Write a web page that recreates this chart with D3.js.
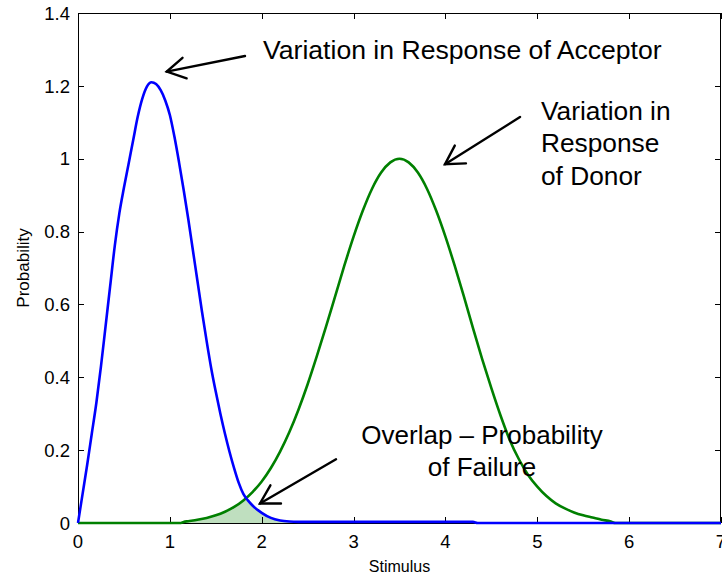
<!DOCTYPE html>
<html><head><meta charset="utf-8">
<script src="https://cdn.jsdelivr.net/npm/d3@7"></script>
<style>
html,body{margin:0;padding:0;background:#fff;}
svg{display:block;}
text{font-family:Arial,"Liberation Sans",sans-serif;fill:#000;}
</style></head>
<body><svg id="chart" width="722" height="576"></svg>
<script>
// ---- data ----
const blueX = [0,0.05,0.1,0.15,0.2,0.25,0.3,0.35,0.4,0.45,0.5,0.55,0.6,0.65,0.7,0.75,0.8,0.85,0.9,0.95,1.0,1.05,1.1,1.15,1.2,1.25,1.3,1.35,1.4,1.45,1.5,1.55,1.6,1.65,1.7,1.75,1.8,1.85,1.9,2.0,2.1,2.2,2.3,2.4,4.3,4.35,7];
const blueY = [0,0.08,0.16,0.245,0.33,0.43,0.54,0.65,0.76,0.85,0.92,0.985,1.05,1.115,1.165,1.198,1.21,1.205,1.188,1.16,1.12,1.06,0.99,0.915,0.835,0.75,0.665,0.58,0.5,0.425,0.36,0.3,0.245,0.195,0.15,0.11,0.08,0.062,0.048,0.028,0.014,0.007,0.004,0.003,0.003,0,0];
const greenX = [0,1.12,1.15,1.2,1.3,1.4,1.5,1.6,1.7,1.8,1.9,2.0,2.1,2.2,2.3,2.4,2.5,2.6,2.7,2.8,2.9,3.0,3.1,3.2,3.3,3.4,3.5,3.6,3.7,3.8,3.9,4.0,4.1,4.2,4.3,4.4,4.5,4.6,4.7,4.8,4.9,5.0,5.1,5.2,5.3,5.4,5.5,5.6,5.7,5.8,5.85,7];
const greenY = [0,0,0.003,0.005,0.009,0.014,0.021,0.031,0.044,0.062,0.085,0.114,0.151,0.196,0.249,0.311,0.381,0.458,0.539,0.623,0.707,0.786,0.857,0.917,0.962,0.99,1.0,0.99,0.962,0.917,0.857,0.786,0.707,0.623,0.535,0.45,0.37,0.295,0.228,0.175,0.132,0.1,0.074,0.054,0.04,0.029,0.021,0.015,0.009,0.004,0,0];
const xTicks = [0,1,2,3,4,5,6,7];
const yTicks = [0,0.2,0.4,0.6,0.8,1,1.2,1.4];
const yTickLabels = ["0","0.2","0.4","0.6","0.8","1","1.2","1.4"];
const overlapRange = [1.12, 2.4];
const xLabel = "Stimulus";
const yLabel = "Probability";
// annotations (data coordinates)
const arrows = [
  {from:[1.818,1.282], to:[0.966,1.239]},
  {from:[4.812,1.1145], to:[3.995,0.985]},
  {from:[2.809,0.175], to:[1.981,0.0535]}
];
const notes = [
  {lines:["Variation in Response of Acceptor"], x:2.014, y:1.2737, anchor:"start", size:26.6},
  {lines:["Variation in","Response","of Donor"], x:5.04, y:1.1063, anchor:"start", size:26.3},
  {lines:["Overlap \u2013 Probability","of Failure"], x:4.398, y:0.2169, anchor:"middle", size:26}
];

// ---- layout ----
const L=78, R=721, T=13, B=523;
const svg = d3.select("#chart");
const x = d3.scaleLinear().domain([0,7]).range([L,R]);
const y = d3.scaleLinear().domain([0,1.4]).range([B,T]);

// overlap fill
function interp(xs, ys, v){
  const i = d3.bisectRight(xs, v);
  if (i<=0) return ys[0];
  if (i>=xs.length) return ys[ys.length-1];
  const x0=xs[i-1], x1=xs[i];
  const t=(v-x0)/(x1-x0);
  return ys[i-1]+(ys[i]-ys[i-1])*t;
}
const fillPts = d3.range(overlapRange[0], overlapRange[1]+1e-9, 0.01).map(v=>[v, Math.min(interp(blueX,blueY,v), interp(greenX,greenY,v))]);
svg.append("path")
  .attr("d", d3.area().x(d=>x(d[0])).y0(y(0)).y1(d=>y(d[1])).curve(d3.curveMonotoneX)(fillPts))
  .attr("fill","rgb(191,223,191)");

// axes box + ticks
const tl = 6;
const axG = svg.append("g").attr("stroke","#000").attr("stroke-width",1).attr("shape-rendering","crispEdges");
axG.append("rect").attr("x",L+0.5).attr("y",T+0.5).attr("width",R-L-1).attr("height",B-T).attr("fill","none");
xTicks.forEach(t=>{
  const px = Math.round(x(t))+0.5;
  axG.append("line").attr("x1",px).attr("x2",px).attr("y1",B).attr("y2",B-tl);
  axG.append("line").attr("x1",px).attr("x2",px).attr("y1",T).attr("y2",T+tl);
});
yTicks.forEach(t=>{
  const py = Math.round(y(t))+0.5;
  axG.append("line").attr("x1",L).attr("x2",L+tl).attr("y1",py).attr("y2",py);
  axG.append("line").attr("x1",R).attr("x2",R-tl).attr("y1",py).attr("y2",py);
});

// tick labels
svg.append("g").selectAll("text").data(xTicks).join("text")
  .attr("x",d=>x(d)).attr("y",B+25).attr("text-anchor","middle")
  .style("font-size","18.5px").text(d=>d3.format("d")(d));
svg.append("g").selectAll("text").data(yTicks).join("text")
  .attr("x",L-8).attr("y",d=>y(d)+6.7).attr("text-anchor","end")
  .style("font-size","18.5px").text((d,i)=>yTickLabels[i]);

// axis labels
svg.append("text").attr("x",(L+R)/2).attr("y",572).attr("text-anchor","middle")
  .style("font-size","16px").text(xLabel);
svg.append("text").attr("transform",`translate(29,${(T+B)/2}) rotate(-90)`).attr("text-anchor","middle")
  .style("font-size","17px").text(yLabel);

// curves
const line = d3.line().x(d=>x(d[0])).y(d=>y(d[1])).curve(d3.curveMonotoneX);
svg.append("path").attr("d", line(greenX.map((v,i)=>[v,greenY[i]])))
  .attr("fill","none").attr("stroke","#008000").attr("stroke-width",2.6).attr("stroke-linejoin","round");
svg.append("path").attr("d", line(blueX.map((v,i)=>[v,blueY[i]])))
  .attr("fill","none").attr("stroke","#0000ff").attr("stroke-width",2.6).attr("stroke-linejoin","round");

// arrows
const aG = svg.append("g").attr("stroke","#000").attr("stroke-width",2.4).attr("fill","none").attr("stroke-linecap","round");
arrows.forEach(a=>{
  const x1=x(a.from[0]), y1=y(a.from[1]), x2=x(a.to[0]), y2=y(a.to[1]);
  const ang = Math.atan2(y1-y2, x1-x2);
  const hl = 21, spread = Math.PI/6;
  aG.append("line").attr("x1",x1).attr("y1",y1).attr("x2",x2).attr("y2",y2);
  aG.append("path").attr("d",
    `M${x2+hl*Math.cos(ang+spread)},${y2+hl*Math.sin(ang+spread)} L${x2},${y2} L${x2+hl*Math.cos(ang-spread)},${y2+hl*Math.sin(ang-spread)}`);
});

// notes
notes.forEach(n=>{
  const t = svg.append("text").attr("x",x(n.x)).attr("y",y(n.y)).attr("text-anchor",n.anchor).style("font-size",n.size+"px");
  n.lines.forEach((s,i)=>{
    t.append("tspan").attr("x",x(n.x)).attr("dy", i===0?0:32.5).text(s);
  });
});
</script></body></html>
